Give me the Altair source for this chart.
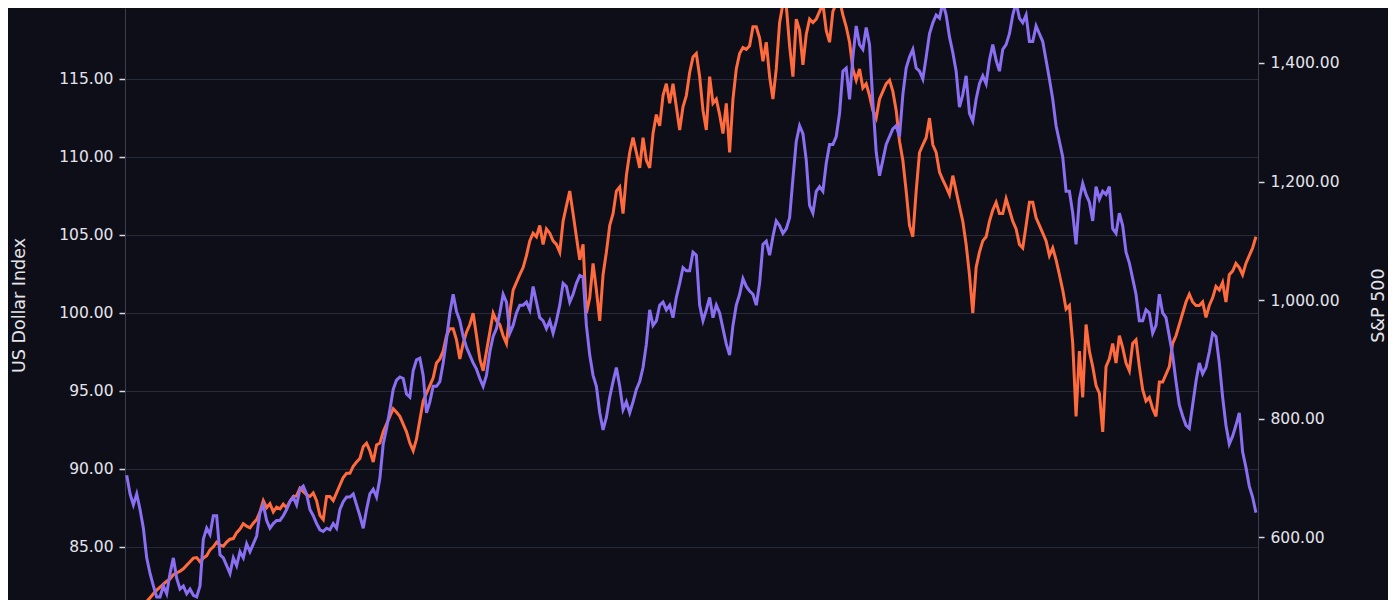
import altair as alt
import pandas as pd

# US Dollar Index (left axis)
dxy_1995_96 = [89.6, 88.4, 87.7, 88.4, 87.4, 86.2, 84.3, 83.3, 82.5, 81.8,
               81.8, 82.5, 82.0, 83.3, 84.3, 83.0, 82.3, 82.5, 82.0, 82.3,
               81.9, 81.8, 82.5, 85.5, 86.2, 85.8, 87.0, 87.0, 84.5, 84.3,
               83.8, 83.3, 84.3, 83.8, 84.7, 84.3, 85.2, 84.7, 85.2, 85.7,
               87.2, 87.7, 86.7, 86.2, 86.5, 86.7, 86.7, 87.0, 87.4, 87.9,
               88.2, 87.7, 88.7, 88.9, 88.4]
dxy_1996_97 = [87.4, 87.0, 86.5, 86.1, 86.0, 86.2, 86.1, 86.5, 86.2, 87.4,
               87.9, 88.2, 88.2, 88.4, 87.7, 87.0, 86.2, 87.4, 88.4, 88.7,
               88.2, 89.4, 91.6, 92.6, 93.8, 95.1, 95.7, 95.9, 95.8, 94.8,
               94.6, 96.3, 97.0, 97.1, 96.0, 93.6, 94.3, 95.3, 95.3, 95.6,
               96.8, 98.3, 100.0, 101.2, 100.1, 99.5, 98.5, 97.8, 97.3, 96.8,
               96.4, 95.8, 95.3, 96.0, 97.5, 98.5, 99.0]
dxy_1998_99 = [100.0, 101.2, 100.7, 98.7, 99.2, 100.0, 100.5, 100.5, 100.7, 100.2,
               101.7, 100.7, 99.7, 99.5, 99.0, 99.5, 98.7, 99.5, 100.5, 101.9,
               101.7, 100.7, 101.2, 101.9, 102.4, 102.3, 99.2, 97.3, 96.0, 95.3,
               93.6, 92.5, 93.3, 94.6, 95.6, 96.5, 95.3, 93.8, 94.3, 93.6,
               94.3, 95.1, 95.6, 96.5, 98.0, 100.2, 99.2, 99.5, 100.5, 100.7,
               100.2, 100.5, 99.7, 101.0, 101.9, 102.9, 102.7]
dxy_1999_00 = [102.7, 103.9, 103.7, 100.5, 99.5, 100.2, 101.0, 99.7, 100.5, 100.0,
               99.0, 98.0, 97.3, 99.2, 100.5, 101.2, 102.2, 101.7, 101.4, 101.2,
               100.5, 101.9, 104.4, 104.6, 103.7, 104.9, 105.9, 105.6, 105.1, 105.4,
               106.1, 108.6, 111.0, 112.0, 111.5, 109.8, 106.9, 106.4, 107.8, 108.1,
               107.8, 109.6, 110.8, 110.8, 111.3, 112.8, 115.5, 115.7, 113.7, 116.4,
               118.4, 117.2, 116.9, 118.3, 117.2, 113.5, 110.3]
dxy_2001_02 = [108.8, 109.8, 110.8, 111.3, 111.8, 112.0, 111.3, 114.0, 115.7, 116.4,
               116.9, 115.7, 115.5, 115.0, 116.4, 117.9, 118.6, 119.1, 118.9, 119.9,
               119.1, 117.7, 116.7, 115.5, 113.2, 114.0, 115.2, 112.8, 112.3, 113.7,
               114.7, 115.2, 114.7, 116.2, 117.2, 116.2, 115.5, 116.9, 117.2, 117.9,
               119.1, 119.9, 118.9, 118.6, 119.1, 117.4, 117.4, 118.4, 117.9, 117.4,
               116.2, 115.0, 113.7, 112.0, 111.0, 110.0, 107.8]
dxy_2002_03 = [107.8, 106.4, 104.4, 107.3, 108.3, 107.6, 107.1, 105.9, 108.1, 107.3,
               107.8, 107.6, 108.1, 105.4, 105.1, 106.4, 105.6, 103.9, 103.2, 102.2,
               101.2, 99.5, 99.5, 100.2, 100.0, 98.7, 99.2, 101.2, 100.0, 99.7,
               98.5, 97.3, 95.6, 94.1, 93.4, 92.8, 92.6, 94.1, 95.6, 96.8,
               96.1, 96.5, 97.5, 98.7, 98.5, 96.8, 94.6, 92.8, 91.6, 92.1,
               92.8, 93.6, 91.1, 90.1, 88.9, 88.2, 87.2]

# S&P 500 (right axis)
spx_1995_96 = [468, 472, 476, 480, 484, 488, 492, 498, 505, 511,
               516, 521, 526, 530, 537, 540, 543, 547, 553, 559,
               565, 566, 559, 565, 569, 579, 584, 592, 587, 585,
               592, 597, 598, 608, 614, 623, 619, 616, 624, 630,
               643, 662, 650, 657, 643, 651, 648, 656, 650, 661,
               669, 670, 683, 677, 672]
spx_1996_97 = [669, 675, 662, 637, 630, 669, 669, 662, 675, 688,
               701, 708, 708, 720, 727, 733, 753, 759, 746, 727,
               756, 759, 778, 791, 804, 817, 811, 804, 791, 778,
               759, 746, 766, 798, 830, 843, 856, 869, 894, 901,
               914, 940, 952, 952, 933, 901, 927, 946, 959, 978,
               940, 901, 881, 914, 946, 978, 965]
spx_1998_99 = [959, 940, 927, 978, 1017, 1030, 1043, 1055, 1075, 1100,
               1113, 1107, 1126, 1094, 1120, 1113, 1100, 1094, 1081, 1133,
               1159, 1184, 1146, 1107, 1068, 1094, 978, 1004, 1062, 1017,
               965, 1043, 1081, 1126, 1146, 1184, 1191, 1146, 1210, 1249,
               1274, 1249, 1223, 1274, 1236, 1223, 1281, 1313, 1294, 1345,
               1365, 1332, 1365, 1326, 1287, 1326, 1345]
spx_1999_00 = [1384, 1410, 1416, 1377, 1320, 1287, 1377, 1332, 1339, 1313,
               1281, 1332, 1249, 1339, 1390, 1416, 1426, 1423, 1429, 1461,
               1461, 1442, 1403, 1435, 1377, 1339, 1390, 1468, 1500, 1497,
               1429, 1377, 1474, 1455, 1397, 1448, 1474, 1468, 1474, 1487,
               1500, 1455, 1435, 1487, 1500, 1506, 1481, 1461, 1435, 1390,
               1371, 1390, 1358, 1365, 1345, 1320, 1307]
spx_2001_02 = [1339, 1352, 1365, 1371, 1352, 1320, 1268, 1236, 1184, 1126,
               1107, 1184, 1249, 1262, 1274, 1307, 1262, 1249, 1216, 1203,
               1191, 1178, 1210, 1184, 1158, 1133, 1094, 1043, 978, 1055,
               1081, 1100, 1107, 1133, 1152, 1165, 1146, 1146, 1171, 1152,
               1133, 1120, 1094, 1088, 1126, 1165, 1165, 1139, 1126, 1113,
               1100, 1075, 1088, 1068, 1043, 1017, 985]
spx_2002_03 = [991, 927, 804, 914, 836, 959, 914, 888, 856, 843,
               778, 888, 901, 927, 894, 940, 920, 894, 881, 927,
               933, 888, 849, 830, 836, 817, 804, 862, 862, 875,
               888, 927, 940, 959, 978, 997, 1010, 997, 991, 991,
               997, 971, 991, 1004, 1023, 1017, 1030, 997, 1043, 1049,
               1062, 1055, 1043, 1062, 1075, 1088, 1107]

left_ticks = [85, 90, 95, 100, 105, 110, 115]
right_ticks = [600, 800, 1000, 1200, 1400]

dxy = dxy_1995_96 + dxy_1996_97 + dxy_1998_99 + dxy_1999_00 + dxy_2001_02 + dxy_2002_03
spx = spx_1995_96 + spx_1996_97 + spx_1998_99 + spx_1999_00 + spx_2001_02 + spx_2002_03
dates = pd.date_range("1995-01-06", "2003-12-26", periods=len(dxy))
df = pd.DataFrame({"date": dates, "dxy": dxy, "spx": spx})

BG = "#0e0e18"
TXT = "#e4e4ec"
FONT = "DejaVu Sans"

xenc = alt.X("date:T", axis=None,
             scale=alt.Scale(domain=[alt.DateTime(year=1995, month=1, date=1),
                                     alt.DateTime(year=2004, month=1, date=1)], nice=False))

common_axis = dict(domainColor="#3a3d4c", tickColor="#d8d8e0", tickSize=6, tickWidth=1.5,
                   labelPadding=6, labelColor=TXT, labelFont=FONT, labelFontSize=15.5,
                   titleColor=TXT, titleFont=FONT, titleFontSize=17.5, titleFontWeight="normal",
                   titleAngle=270, titleY=297, titleAlign="center", titleBaseline="middle")

orange = alt.Chart(df).mark_line(color="#ff6b3d", strokeWidth=3, clip=True).encode(
    x=xenc,
    y=alt.Y("spx:Q",
            scale=alt.Scale(domain=[494.4, 1492.7], nice=False, zero=False),
            axis=alt.Axis(orient="right", title="S&P 500", values=right_ticks, format=",.2f",
                          grid=False, titleX=120, **common_axis)),
)

purple = alt.Chart(df).mark_line(color="#8a6ff2", strokeWidth=3, clip=True).encode(
    x=xenc,
    y=alt.Y("dxy:Q",
            scale=alt.Scale(domain=[81.60, 119.55], nice=False, zero=False),
            axis=alt.Axis(orient="left", title="US Dollar Index", values=left_ticks, format=".2f",
                          grid=True, gridColor="#272a38", gridWidth=1, titleX=-106,
                          **common_axis)),
)

chart = alt.layer(orange, purple).resolve_scale(y="independent").properties(
    width=1133, height=592, background=BG,
    padding={"left": 117, "top": 0, "right": 130, "bottom": 0},
    autosize=alt.AutoSizeParams(type="none"),
).configure_view(stroke=None)

chart.save("out.html", embed_options={"renderer": "svg", "actions": False})
